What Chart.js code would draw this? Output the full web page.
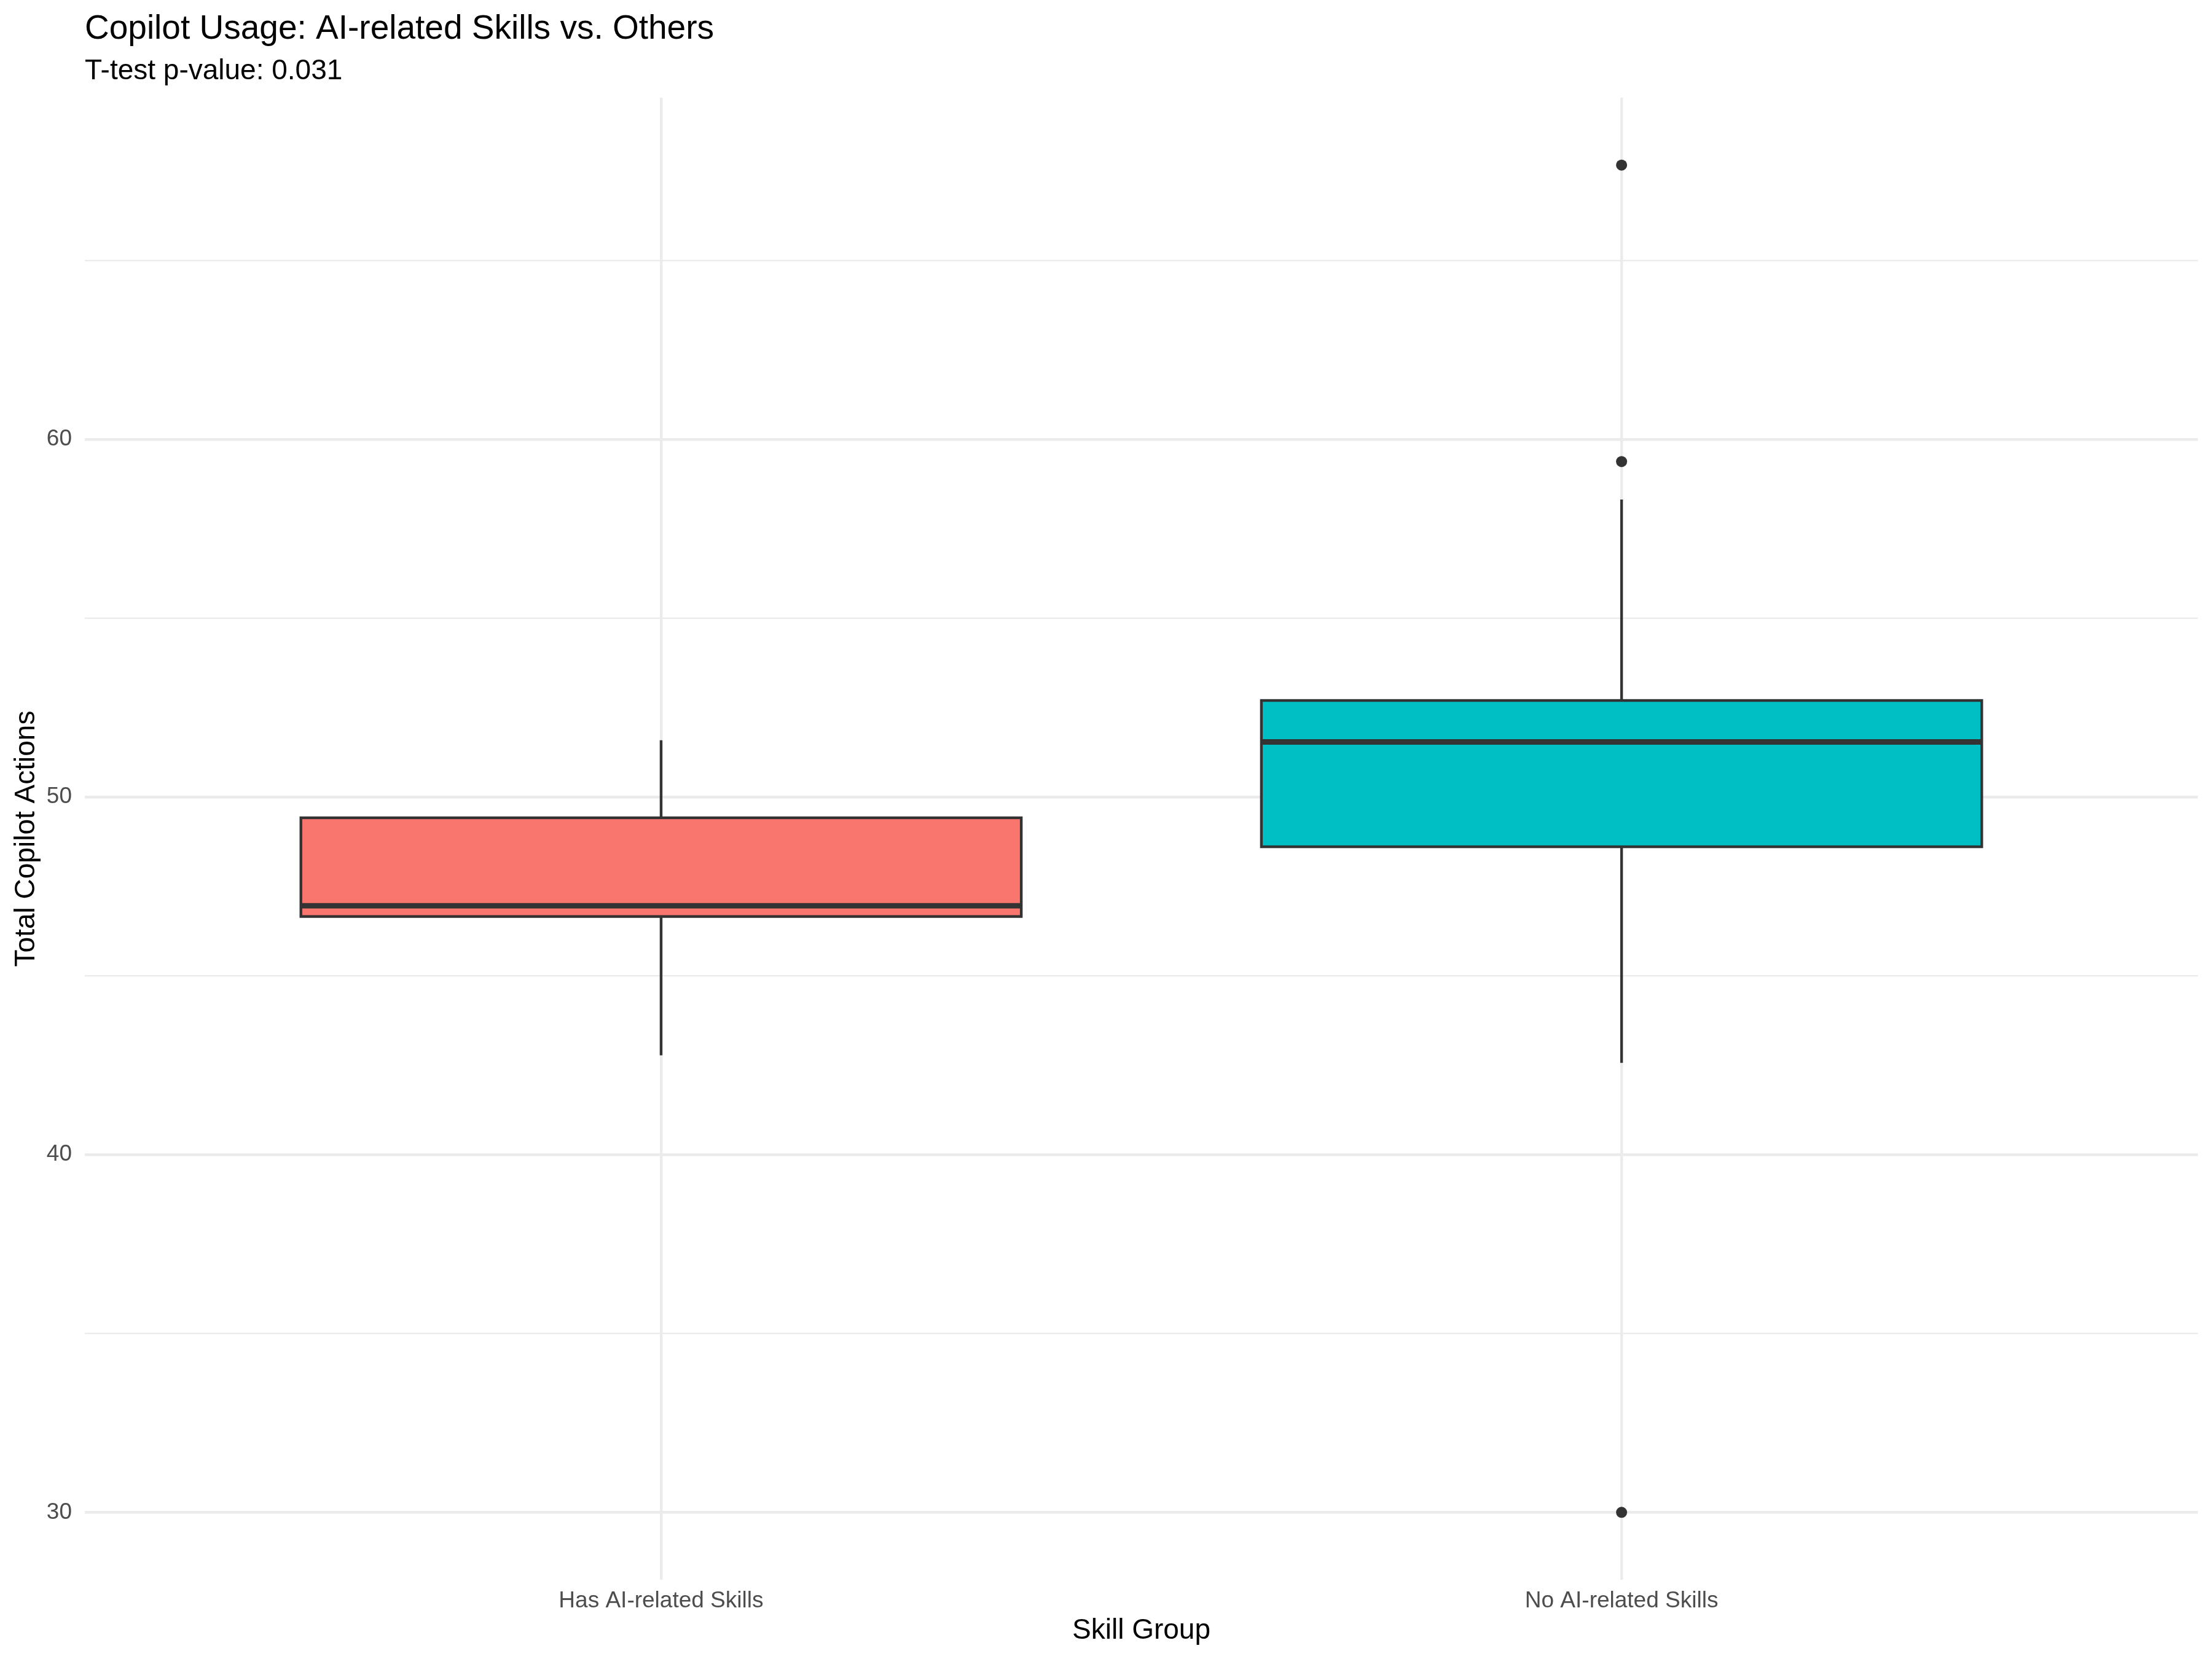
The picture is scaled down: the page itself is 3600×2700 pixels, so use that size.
<!DOCTYPE html>
<html>
<head>
<meta charset="utf-8">
<script src="https://cdn.jsdelivr.net/npm/chart.js@4.4.1/dist/chart.umd.min.js"></script>
<style>
  html, body { margin: 0; padding: 0; background: #ffffff; }
  #wrap { width: 3600px; height: 2700px; }
</style>
</head>
<body>
<div id="wrap"><canvas id="boxChart" width="3600" height="2700"></canvas></div>
<script>
// values
const groups = ["Has AI-related Skills", "No AI-related Skills"];
const whiskerLow = [42.78, 42.57];
const q1 = [46.66, 48.61];
const medians = [46.96, 51.54];
const q3 = [49.42, 52.70];
const whiskerHigh = [51.59, 58.32];
const outlierGroup = [2, 2, 2];          // position of the group each outlier belongs to
const outlierValues = [67.67, 59.38, 30.0];
const fillColors = ["#F8766D", "#00BFC4"];

const yMajorTicks = [30, 40, 50, 60];
const yMinorTicks = [35, 45, 55, 65];
const yTickLabels = ["30", "40", "50", "60"];

const titleText = "Copilot Usage: AI-related Skills vs. Others";
const subtitleText = "T-test p-value: 0.031";

const FONT = "'Liberation Sans', Arial, Helvetica, sans-serif";

// ggplot-style 5% expansion of the y range
const lo = Math.min(...whiskerLow, ...outlierValues);
const hi = Math.max(...whiskerHigh, ...outlierValues);
const yMin = lo - (hi - lo) * 0.05;
const yMax = hi + (hi - lo) * 0.05;

const boxPlugin = {
  id: "boxes",
  beforeDatasetsDraw(chart) {
    const { ctx, scales: { x, y } } = chart;
    ctx.save();
    ctx.strokeStyle = "#333333";
    groups.forEach((g, i) => {
      const cx = x.getPixelForValue(i + 1);
      const left = x.getPixelForValue(i + 1 - 0.375);
      const right = x.getPixelForValue(i + 1 + 0.375);
      const top = y.getPixelForValue(q3[i]);
      const bot = y.getPixelForValue(q1[i]);

      // whiskers
      ctx.lineWidth = 4.4;
      ctx.beginPath();
      ctx.moveTo(cx, top);
      ctx.lineTo(cx, y.getPixelForValue(whiskerHigh[i]));
      ctx.moveTo(cx, bot);
      ctx.lineTo(cx, y.getPixelForValue(whiskerLow[i]));
      ctx.stroke();

      // box
      ctx.fillStyle = fillColors[i];
      ctx.fillRect(left, top, right - left, bot - top);
      ctx.strokeRect(left, top, right - left, bot - top);

      // median
      const my = y.getPixelForValue(medians[i]);
      ctx.lineWidth = 8.9;
      ctx.beginPath();
      ctx.moveTo(left, my);
      ctx.lineTo(right, my);
      ctx.stroke();
    });
    ctx.restore();
  }
};

const titlePlugin = {
  id: "titles",
  afterDraw(chart) {
    const { ctx, chartArea } = chart;
    ctx.save();
    ctx.fillStyle = "#000000";
    ctx.textAlign = "left";
    ctx.textBaseline = "alphabetic";
    ctx.font = "55px " + FONT;
    ctx.fillText(titleText, chartArea.left, 63);
    ctx.font = "46px " + FONT;
    ctx.fillText(subtitleText, chartArea.left, 129);
    ctx.restore();
  }
};

new Chart(document.getElementById("boxChart"), {
  type: "scatter",
  data: {
    datasets: [{
      label: "outliers",
      data: outlierValues.map((v, k) => ({ x: outlierGroup[k], y: v })),
      pointRadius: 9,
      pointHoverRadius: 9,
      backgroundColor: "#333333",
      borderWidth: 0
    }]
  },
  options: {
    responsive: false,
    devicePixelRatio: 1,
    animation: false,
    layout: { padding: { top: 159, right: 23, left: 0, bottom: 0 } },
    plugins: {
      legend: { display: false },
      tooltip: { enabled: false }
    },
    scales: {
      x: {
        type: "linear",
        min: 0.4,
        max: 2.6,
        afterBuildTicks: s => { s.ticks = groups.map((g, i) => ({ value: i + 1 })); },
        afterFit: s => { s.height = 129; },
        ticks: {
          callback: (v, i) => groups[i],
          font: { family: FONT, size: 37 },
          color: "#4D4D4D",
          padding: 13,
          maxRotation: 0,
          autoSkip: false
        },
        grid: { color: "#EBEBEB", lineWidth: 4.4, drawTicks: false },
        border: { display: false },
        title: {
          display: true,
          text: "Skill Group",
          font: { family: FONT, size: 46 },
          color: "#000000",
          padding: { top: 0, bottom: 18 }
        }
      },
      y: {
        type: "linear",
        min: yMin,
        max: yMax,
        afterBuildTicks: s => {
          s.ticks = yMajorTicks.concat(yMinorTicks).sort((a, b) => a - b).map(v => ({ value: v }));
        },
        afterFit: s => { s.width = 138; },
        ticks: {
          callback: v => {
            const k = yMajorTicks.indexOf(v);
            return k >= 0 ? yTickLabels[k] : "";
          },
          font: { family: FONT, size: 37 },
          color: "#4D4D4D",
          padding: 21,
          autoSkip: false
        },
        grid: {
          color: "#EBEBEB",
          lineWidth: c => (yMajorTicks.includes(c.tick && c.tick.value) ? 4.4 : 2.2),
          drawTicks: false
        },
        border: { display: false },
        title: {
          display: true,
          text: "Total Copilot Actions",
          font: { family: FONT, size: 46 },
          color: "#000000",
          padding: { top: 16, bottom: 0 }
        }
      }
    }
  },
  plugins: [boxPlugin, titlePlugin]
});
</script>
</body>
</html>
